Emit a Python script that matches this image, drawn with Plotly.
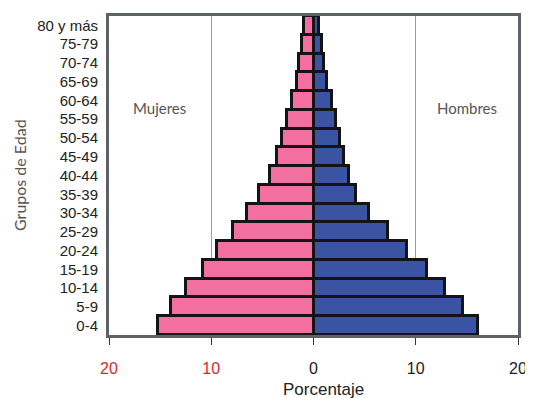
import plotly.graph_objects as go

grupos = ["0-4", "5-9", "10-14", "15-19", "20-24", "25-29", "30-34", "35-39",
          "40-44", "45-49", "50-54", "55-59", "60-64", "65-69", "70-74", "75-79", "80 y más"]
mujeres = [15.2, 13.9, 12.5, 10.8, 9.4, 7.9, 6.5, 5.3, 4.3, 3.6, 3.1, 2.6, 2.1, 1.6, 1.4, 1.1, 0.9]
hombres = [16.1, 14.6, 12.9, 11.1, 9.1, 7.3, 5.4, 4.2, 3.5, 3.0, 2.6, 2.2, 1.8, 1.3, 1.0, 0.8, 0.5]
x_ticks = [-20, -10, 0, 10, 20]
x_ticktext = ['<span style="color:#d8262f">20</span>', '<span style="color:#d8262f">10</span>', "0", "10", "20"]

fig = go.Figure()
fig.add_trace(go.Bar(y=grupos, x=[-v for v in mujeres], orientation="h",
                     marker=dict(color="#f26fa0", line=dict(color="#141414", width=3)),
                     name="Mujeres", hoverinfo="skip"))
fig.add_trace(go.Bar(y=grupos, x=hombres, orientation="h",
                     marker=dict(color="#3a54a3", line=dict(color="#141414", width=3)),
                     name="Hombres", hoverinfo="skip"))

# the page body has an 8px margin, so the figure is 8px smaller than the window
frame = "#5d6265"
fig.update_layout(
    width=525, height=390,
    margin=dict(l=101, r=15, t=8, b=63),
    barmode="overlay", bargap=0,
    showlegend=False,
    plot_bgcolor="white", paper_bgcolor="white",
    font=dict(family="Liberation Sans, Arial", color="#222"),
    xaxis=dict(range=[-20, 20], tickvals=x_ticks, ticktext=x_ticktext,
               automargin=False, ticklabeloverflow="allow",
               showline=True, mirror=True, linecolor=frame, linewidth=3,
               showgrid=True, gridcolor="#9a9a9a", gridwidth=1, zeroline=False,
               ticks="outside", ticklen=7, tickcolor="#333", tickwidth=1,
               ticklabelstandoff=10,
               tickfont=dict(size=16, color="#222")),
    yaxis=dict(automargin=False,
               showline=True, mirror=True, linecolor=frame, linewidth=3,
               showgrid=False, ticks="", ticklabelstandoff=5,
               tickfont=dict(size=15, color="#222")),
)

fig.add_annotation(text="Mujeres", x=-15.1, y=0.746, xref="x", yref="paper",
                   showarrow=False, font=dict(family="Lato", size=15, color="#555"))
fig.add_annotation(text="Hombres", x=15.0, y=0.746, xref="x", yref="paper",
                   showarrow=False, font=dict(family="Lato", size=15, color="#555"))
fig.add_annotation(text="Grupos de Edad", x=(19.5 - 109) / 409, y=0.5, xref="paper", yref="paper",
                   textangle=-90, xanchor="center", yanchor="middle",
                   showarrow=False, font=dict(family="Lato", size=16, color="#555"))
fig.add_annotation(text="Porcentaje", x=(323 - 109) / 409, y=(335 - 389) / 319, xref="paper", yref="paper",
                   xanchor="center", yanchor="middle",
                   showarrow=False, font=dict(family="Liberation Sans, Arial", size=17, color="#222"))

fig.write_html("out.html")
